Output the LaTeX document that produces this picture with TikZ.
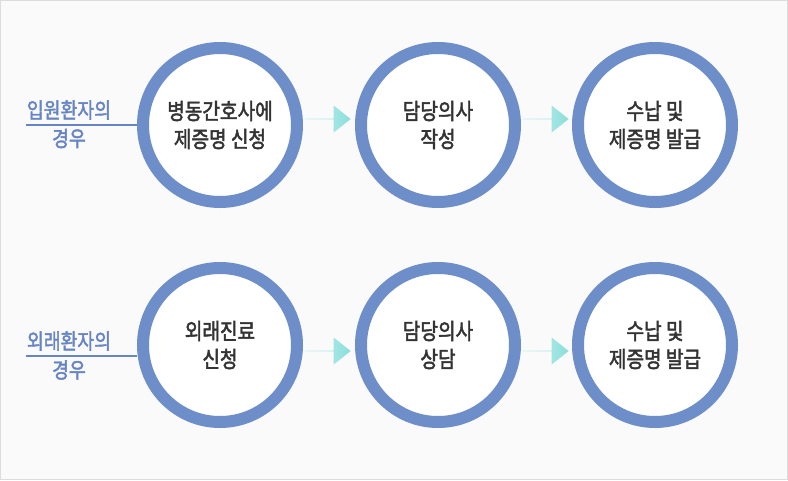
\documentclass[tikz,border=0pt]{standalone}
\usepackage{fontspec}
\setmainfont{Noto Sans CJK KR}
\newfontfamily\krmed[FakeBold=2,FakeStretch=0.85]{Noto Sans CJK KR}
\usetikzlibrary{shapes.arrows}
\definecolor{ring}{HTML}{6E8EC9}
\definecolor{lbl}{HTML}{6784C4}
\definecolor{txt}{HTML}{333333}
\definecolor{bg}{HTML}{FAFAFA}
\definecolor{frame}{HTML}{DCDCDC}
\definecolor{arr}{HTML}{8ADFDB}
\tikzset{
  stepcirc/.style={circle, draw=ring, line width=12pt, fill=white, minimum size=154pt, inner sep=0pt, text=txt, font=\krmed\fontsize{22.5}{28}\selectfont, align=center},
  casetext/.style={text=lbl, font=\krmed\fontsize{21.5}{30}\selectfont, align=center, inner sep=0pt},
  flow/.style={single arrow, draw=none, minimum height=46pt, minimum width=27pt, single arrow head extend=6.5pt, single arrow tip angle=77, single arrow head indent=0pt, left color=arr!45, right color=arr, inner sep=0pt},
}
\begin{document}
\begin{tikzpicture}[x=1pt,y=-1pt]
\path[fill=bg, draw=frame, line width=1pt] (0.5,0.5) rectangle (787.5,479.5);
\useasboundingbox (0,0) rectangle (788,480);
% row 1
\node[stepcirc] (a1) at (220,125) {병동간호사에\\제증명 신청};
\node[stepcirc] (a2) at (438,125) {담당의사\\작성};
\node[stepcirc] (a3) at (655,125) {수납 및\\제증명 발급};
\coordinate (l1) at (26,125);
\draw[lbl, line width=1.5pt] (l1) -- (a1.west);
\node[casetext] (c1) at (69,110) {입원환자의};
\node[casetext] (c1b) at (69,138.5) {경우};
\node[flow, anchor=tip] (f1) at (351,119) {};
\node[flow, anchor=tip] (f2) at (569,119) {};
% row 2
\node[stepcirc] (b1) at (220,345) {외래진료\\신청};
\node[stepcirc] (b2) at (438,345) {담당의사\\상담};
\node[stepcirc] (b3) at (655,345) {수납 및\\제증명 발급};
\coordinate (l2) at (26,356);
\draw[lbl, line width=1.5pt] (l2) -- (l2 -| b1.west);
\node[casetext] (d1) at (69,341) {외래환자의};
\node[casetext] (d1b) at (69,370) {경우};
\node[flow, anchor=tip] (g1) at (351,351) {};
\node[flow, anchor=tip] (g2) at (569,351) {};
\end{tikzpicture}
\end{document}
